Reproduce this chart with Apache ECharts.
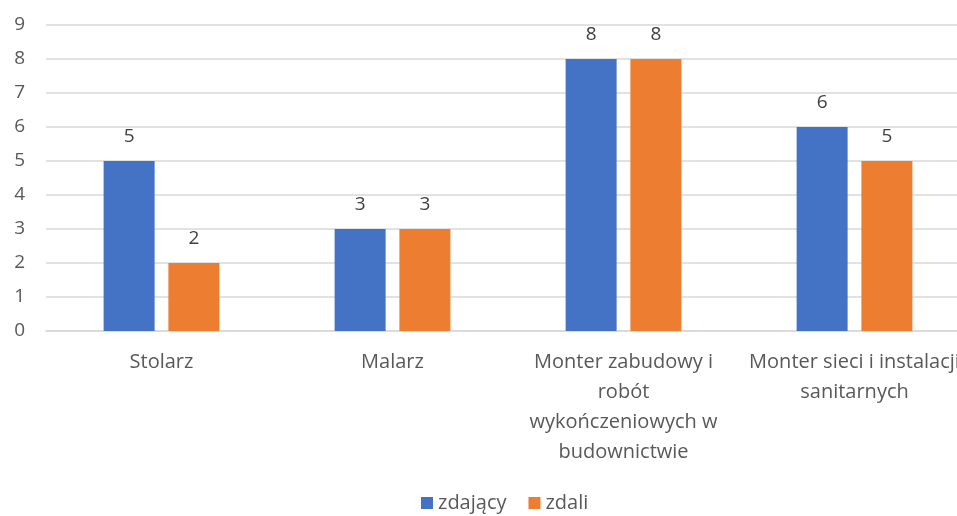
<!DOCTYPE html>
<html>
<head>
<meta charset="utf-8">
<script src="https://cdn.jsdelivr.net/npm/echarts@6/dist/echarts.min.js"></script>
<style>
  html, body { margin: 0; padding: 0; background: #fff; }
  #main { width: 957px; height: 516px; }
</style>
</head>
<body>
<div id="main"></div>
<script>
var myChart = echarts.init(document.getElementById('main'));

// dane
var categories = [
    'Stolarz',
    'Malarz',
    'Monter zabudowy i\nrobót\nwykończeniowych w\nbudownictwie',
    'Monter sieci i instalacji\nsanitarnych'
];
var zdajacy = [5, 3, 8, 6];
var zdali = [2, 3, 8, 5];
var seriesNames = ['zdający', 'zdali'];

var labelFont = 'Open Sans, Noto Sans, sans-serif';

var option = {
    animation: false,
    textStyle: { fontFamily: labelFont },
    grid: {
        left: 46,
        top: 25,
        width: 924,
        height: 306,
        outerBoundsMode: 'none',
        containLabel: false
    },
    legend: {
        bottom: -2,
        left: 416,
        itemWidth: 12,
        itemHeight: 12,
        itemGap: 22,
        icon: 'rect',
        textStyle: { color: '#595959', fontSize: 20, fontFamily: labelFont },
        data: seriesNames
    },
    xAxis: {
        type: 'category',
        data: categories,
        axisLine: { lineStyle: { color: '#D9D9D9', width: 1.5 } },
        axisTick: { show: false },
        axisLabel: {
            color: '#595959',
            fontSize: 20,
            lineHeight: 30,
            margin: 16,
            interval: 0,
            hideOverlap: false,
            fontFamily: labelFont
        }
    },
    yAxis: {
        type: 'value',
        min: 0,
        max: 9,
        interval: 1,
        axisLine: { show: false },
        axisTick: { show: false },
        splitLine: { lineStyle: { color: '#D9D9D9', width: 1.5 } },
        axisLabel: {
            color: '#595959',
            fontSize: 19,
            margin: 21,
            fontFamily: labelFont
        }
    },
    series: [
        {
            name: seriesNames[0],
            type: 'bar',
            data: zdajacy,
            barWidth: 51,
            barGap: '27%',
            itemStyle: { color: '#4472C4' },
            label: {
                show: true,
                position: 'top',
                distance: 15,
                color: '#404040',
                fontSize: 19,
                fontFamily: labelFont
            }
        },
        {
            name: seriesNames[1],
            type: 'bar',
            data: zdali,
            barWidth: 51,
            barGap: '27%',
            itemStyle: { color: '#ED7D31' },
            label: {
                show: true,
                position: 'top',
                distance: 15,
                color: '#404040',
                fontSize: 19,
                fontFamily: labelFont
            }
        }
    ]
};

myChart.setOption(option);
</script>
</body>
</html>
